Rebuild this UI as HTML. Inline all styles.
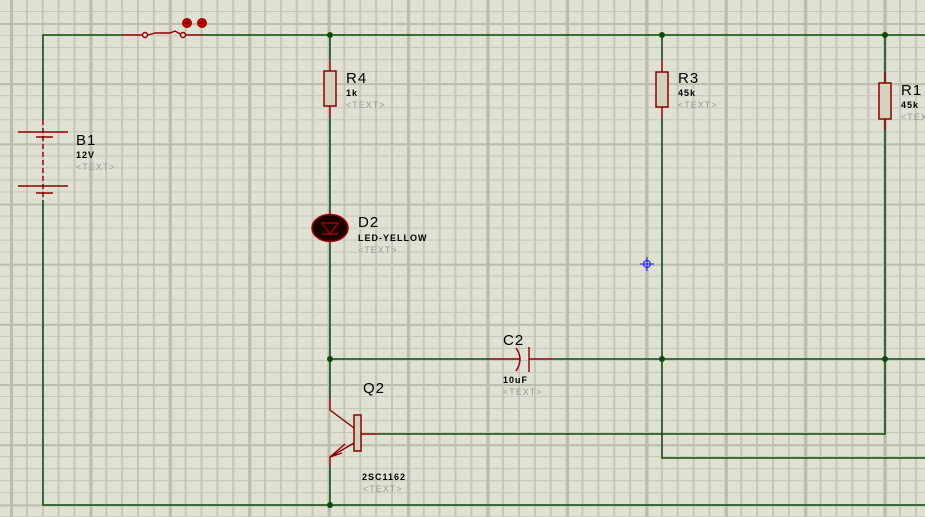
<!DOCTYPE html>
<html><head><meta charset="utf-8"><style>
html,body{margin:0;padding:0}
body{width:925px;height:517px;overflow:hidden;position:relative;background-color:#e0e0d3;
background-image:
linear-gradient(to right,#bdbdae 0 3px,transparent 3px),
linear-gradient(to bottom,#bdbdae 0 2px,transparent 2px),
linear-gradient(to right,#c6c6b7 0 2px,transparent 2px),
linear-gradient(to bottom,#c6c6b7 0 1px,transparent 1px);
background-size:79.45px 100%,100% 60.2px,15.89px 100%,100% 12.04px;
background-position:10px 0,0 23px,10px 0,0 -1px;}
svg{position:absolute;left:0;top:0}
text{font-family:"Liberation Sans",sans-serif}
.l{font-size:15px;fill:#000;letter-spacing:1px}
.v{font-size:9px;fill:#000;font-weight:bold;letter-spacing:1px}
.t{font-size:9px;fill:#9a9a9a;letter-spacing:1px}
</style></head><body>
<svg width="925" height="517" viewBox="0 0 925 517">
<g stroke="#0b4a0b" stroke-width="1.5" fill="none">
<path d="M123 35H43V120M43 200V505H925"/>
<path d="M203 35H925"/>
<path d="M330 35V60M330 117V212M330 244V398M330 466V505"/>
<path d="M330 359H490M553 359H925"/>
<path d="M378 434H885V119M885 35V83"/>
<path d="M662 35V60M662 119V458H925"/>
</g>
<g stroke="#8b0000" stroke-width="1.4" fill="none">
<path d="M123 35H142M148 35L155 33H170L175 31L182 35M186 35H203"/>
<circle cx="145" cy="35" r="2.5" fill="#e0e0d3"/>
<circle cx="183" cy="35" r="2.5" fill="#e0e0d3"/>
<path d="M43 120V200" stroke-dasharray="5,3"/>
<path d="M18 132H68M36 137H53M18 186H68M36 193H53"/>
<path d="M330 60V71M330 106V117M662 60V72M662 107V119M885 72V83M885 118V130"/>
<path d="M330 212V244"/>
<path d="M490 359H520M529 359H553"/>
<path d="M516 348Q524 359 516 371"/>
<path d="M529 347V372"/>
<path d="M330 398V410L354 428M354 443L330 457V466M361 434H378"/>
<path d="M330 457L345 444M330 457L342 453Z" fill="#8b0000"/>
</g>
<g fill="#d3d3bd" stroke="#8b0000" stroke-width="1.5">
<rect x="324" y="71" width="12" height="35"/>
<rect x="656" y="72" width="12" height="35"/>
<rect x="879" y="83" width="12" height="36"/>
<rect x="354" y="415" width="7" height="36"/>
</g>
<ellipse cx="330" cy="228" rx="18" ry="13.5" fill="#1a0000" stroke="#a00000" stroke-width="1.5"/>
<path d="M322 223H338L330 234Z M322 234H338" stroke="#b00000" stroke-width="1.2" fill="none"/>
<g fill="#0b4a0b">
<circle cx="330" cy="35" r="3"/><circle cx="662" cy="35" r="3"/><circle cx="885" cy="35" r="3"/>
<circle cx="330" cy="359" r="3"/><circle cx="662" cy="359" r="3"/><circle cx="885" cy="359" r="3"/>
<circle cx="330" cy="505" r="3"/>
</g>
<g fill="#cc0000" stroke="#990000"><circle cx="187" cy="23" r="4.5"/><circle cx="202" cy="23" r="4.5"/></g>
<g stroke="#600" stroke-width="1.2"><path d="M184 23h6M187 20v6M199 23h6M202 20v6"/></g>
<g stroke="#1a1aff" stroke-width="1" fill="none"><circle cx="647" cy="264" r="3.5"/><path d="M640 264h14M647 257v14"/></g>
<text class="l" x="76" y="145">B1</text><text class="v" x="76" y="158">12V</text><text class="t" x="76" y="170">&lt;TEXT&gt;</text>
<text class="l" x="346" y="83">R4</text><text class="v" x="346" y="96">1k</text><text class="t" x="346" y="108">&lt;TEXT&gt;</text>
<text class="l" x="678" y="83">R3</text><text class="v" x="678" y="96">45k</text><text class="t" x="678" y="108">&lt;TEXT&gt;</text>
<text class="l" x="901" y="95">R1</text><text class="v" x="901" y="108">45k</text><text class="t" x="901" y="120">&lt;TEXT&gt;</text>
<text class="l" x="358" y="227">D2</text><text class="v" x="358" y="241">LED-YELLOW</text><text class="t" x="358" y="253">&lt;TEXT&gt;</text>
<text class="l" x="503" y="345">C2</text><text class="v" x="503" y="383">10uF</text><text class="t" x="503" y="395">&lt;TEXT&gt;</text>
<text class="l" x="363" y="393">Q2</text><text class="v" x="362" y="480">2SC1162</text><text class="t" x="363" y="492">&lt;TEXT&gt;</text>
</svg>
</body></html>
